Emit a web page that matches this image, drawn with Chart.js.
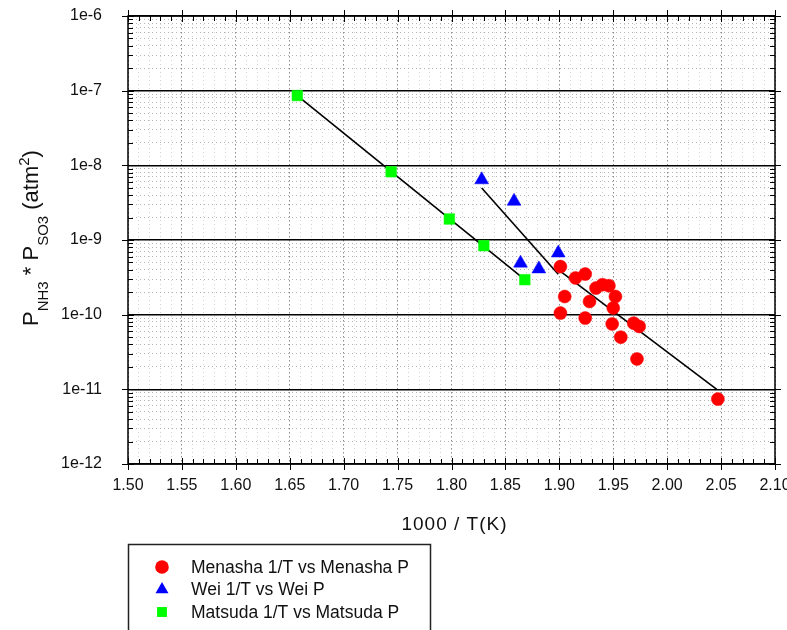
<!DOCTYPE html>
<html>
<head>
<meta charset="utf-8">
<script src="https://cdn.jsdelivr.net/npm/chart.js@4.4.1/dist/chart.umd.min.js"></script>
<style>
  html, body { margin: 0; padding: 0; background: #fff; }
  #wrap { width: 787px; height: 630px; }
</style>
</head>
<body>
<div id="wrap"><canvas id="chart" width="787" height="630"></canvas></div>
<script>
// values
const menashaX = [1.901, 1.915, 1.924, 1.905, 1.901, 1.928, 1.924, 1.934, 1.940, 1.946, 1.952, 1.950, 1.949, 1.969, 1.974, 1.957, 1.972, 2.047];
const menashaP = [4.4e-10, 3.1e-10, 3.5e-10, 1.75e-10, 1.05e-10, 1.5e-10, 9.0e-11, 2.27e-10, 2.52e-10, 2.44e-10, 1.75e-10, 1.23e-10, 7.5e-11, 7.7e-11, 6.95e-11, 5.0e-11, 2.55e-11, 7.4e-12];

const weiX = [1.828, 1.858, 1.899, 1.864, 1.881];
const weiP = [6.4e-9, 3.3e-9, 6.7e-10, 4.9e-10, 4.1e-10];

const matsudaX = [1.657, 1.744, 1.798, 1.830, 1.868];
const matsudaP = [8.6e-8, 8.2e-9, 1.91e-9, 8.4e-10, 2.94e-10];

// regression lines as drawn in the figure (end points)
const menashaFitX = [1.902, 2.046];
const menashaFitP = [3.72e-10, 1.0e-11];
const weiFitX = [1.828, 1.899];
const weiFitP = [4.98e-9, 3.47e-10];
const matsudaFitX = [1.657, 1.868];
const matsudaFitP = [8.6e-8, 2.95e-10];

const xTickLabels = ['1.50', '1.55', '1.60', '1.65', '1.70', '1.75', '1.80', '1.85', '1.90', '1.95', '2.00', '2.05', '2.10'];
const yTickLabels = ['1e-12', '1e-11', '1e-10', '1e-9', '1e-8', '1e-7', '1e-6'];

const xTitle = '1000 / T(K)';
const legendLabels = ['Menasha 1/T vs Menasha P', 'Wei 1/T vs Wei P', 'Matsuda 1/T vs Matsuda P'];

const FONT = '"Liberation Sans", Arial, Helvetica, sans-serif';

const pts = (xs, ys) => xs.map((x, i) => ({ x: x, y: ys[i] }));

// tick values: minor every 0.01 on x, 1..9 per decade on y
const xTicks = [];
for (let i = 0; i <= (xTickLabels.length - 1) * 5; i++) xTicks.push(Math.round((1.5 + i * 0.01) * 100) / 100);
const yTicks = [];
for (let e = -12; e < -6; e++) {
  for (let m = 1; m <= 9; m++) yTicks.push(m * Math.pow(10, e));
}
yTicks.push(1e-6);

const isMajorY = v => Math.abs(Math.log10(v) - Math.round(Math.log10(v))) < 1e-6;
const isMajorX = v => Math.abs(v * 20 - Math.round(v * 20)) < 1e-6;

// frame, inward minor ticks, crossing major ticks
const frameTicks = {
  id: 'frameTicks',
  afterDraw(chart) {
    const { ctx, chartArea: a, scales: { x, y } } = chart;
    ctx.save();
    ctx.strokeStyle = '#000';
    ctx.lineWidth = 1;
    ctx.beginPath();
    xTicks.forEach(v => {
      const px = Math.round(x.getPixelForValue(v)) + 0.5;
      const out = isMajorX(v) ? 6 : 0;
      const inn = isMajorX(v) ? 6 : 5;
      ctx.moveTo(px, a.bottom + out); ctx.lineTo(px, a.bottom - inn);
      ctx.moveTo(px, a.top - out); ctx.lineTo(px, a.top + inn);
    });
    yTicks.forEach(v => {
      const py = Math.round(y.getPixelForValue(v)) + 0.5;
      const out = isMajorY(v) ? 6 : 0;
      const inn = isMajorY(v) ? 6 : 5;
      ctx.moveTo(a.left - out, py); ctx.lineTo(a.left + inn, py);
      ctx.moveTo(a.right + out, py); ctx.lineTo(a.right - inn, py);
    });
    ctx.stroke();
    ctx.lineWidth = 1.5;
    ctx.strokeRect(a.left, a.top, a.right - a.left, a.bottom - a.top);
    ctx.restore();
  }
};

// axis titles (y title needs sub/superscripts)
const axisTitles = {
  id: 'axisTitles',
  afterDraw(chart) {
    const { ctx, chartArea: a } = chart;
    ctx.save();
    ctx.fillStyle = '#111';
    ctx.font = '19px ' + FONT;
    ctx.textAlign = 'center';
    ctx.textBaseline = 'middle';
    if ('letterSpacing' in ctx) ctx.letterSpacing = '1px';
    ctx.fillText(xTitle, (a.left + a.right) / 2 + 3, 525);
    if ('letterSpacing' in ctx) ctx.letterSpacing = '0px';

    ctx.translate(38, 326);
    ctx.rotate(-Math.PI / 2);
    ctx.textAlign = 'left';
    ctx.textBaseline = 'alphabetic';
    const parts = [
      ['P', 22, 0], ['NH3', 15, 10], [' * ', 22, 0], ['P', 22, 0],
      ['SO3', 15, 10], [' (atm', 22, 0], ['2', 15, -9.5], [')', 22, 0]
    ];
    let cx = 0;
    parts.forEach(([t, size, dy]) => {
      ctx.font = size + 'px ' + FONT;
      ctx.fillText(t, cx, dy);
      cx += ctx.measureText(t).width;
    });
    ctx.restore();
  }
};

// boxed legend under the plot
const boxLegend = {
  id: 'boxLegend',
  afterDraw(chart) {
    const { ctx } = chart;
    ctx.save();
    ctx.strokeStyle = '#222';
    ctx.lineWidth = 1.5;
    ctx.strokeRect(128.5, 544.5, 302, 120);
    ctx.font = '17.5px ' + FONT;
    ctx.textBaseline = 'middle';
    ctx.fillStyle = '#111';
    let row = 0;
    chart.data.datasets.forEach(ds => {
      if (!ds.inLegend) return;
      const cy = 567 + row * 22.5;
      ctx.fillStyle = ds.backgroundColor;
      ctx.strokeStyle = ds.backgroundColor;
      Chart.helpers.drawPoint(ctx, { pointStyle: ds.pointStyle, radius: ds.legendRadius, rotation: 0, borderWidth: 0 }, 162, cy);
      ctx.fillStyle = '#111';
      ctx.fillText(ds.label, 191, cy + 1);
      row++;
    });
    ctx.restore();
  }
};

const fitLine = (xs, ys) => ({
  type: 'line',
  data: pts(xs, ys),
  borderColor: '#000',
  borderWidth: 1.6,
  pointRadius: 0,
  fill: false,
  order: 2
});

new Chart(document.getElementById('chart'), {
  type: 'scatter',
  data: {
    datasets: [
      {
        label: legendLabels[0], inLegend: true, legendRadius: 6.8,
        data: pts(menashaX, menashaP),
        pointStyle: 'circle', pointRadius: 6.5,
        backgroundColor: '#ff0000', borderColor: '#ff0000', borderWidth: 0.5, order: 1
      },
      {
        label: legendLabels[1], inLegend: true, legendRadius: 7.5,
        data: pts(weiX, weiP),
        pointStyle: 'triangle', pointRadius: 8,
        backgroundColor: '#0000ff', borderColor: '#0000ff', borderWidth: 0.5, order: 1
      },
      {
        label: legendLabels[2], inLegend: true, legendRadius: 7,
        data: pts(matsudaX, matsudaP),
        pointStyle: 'rect', pointRadius: 7.5,
        backgroundColor: '#00ff00', borderColor: '#00ff00', borderWidth: 0.5, order: 1
      },
      fitLine(matsudaFitX, matsudaFitP),
      fitLine(weiFitX, weiFitP),
      fitLine(menashaFitX, menashaFitP)
    ]
  },
  options: {
    responsive: false,
    animation: false,
    layout: { padding: { top: 16, right: 12, left: 0, bottom: 0 } },
    plugins: {
      legend: { display: false },
      tooltip: { enabled: false }
    },
    scales: {
      x: {
        type: 'linear',
        min: 1.5,
        max: 2.1,
        afterBuildTicks: s => { s.ticks = xTicks.map(v => ({ value: v })); },
        afterFit: s => { s.height = 166; s.paddingLeft = 0; s.paddingRight = 0; },
        ticks: {
          autoSkip: false,
          maxRotation: 0,
          padding: 12,
          color: '#111',
          font: { family: FONT, size: 16 },
          callback: (v, i) => (i % 5 === 0 ? xTickLabels[i / 5] : '')
        },
        grid: {
          drawTicks: false,
          color: c => (c.tick && isMajorX(c.tick.value) ? '#8c8c8c' : '#d2d2d2'),
          lineWidth: 1
        },
        border: { display: false, dash: c => (c.tick ? (isMajorX(c.tick.value) ? [1.5, 2.5] : [1, 3]) : []) }
      },
      y: {
        type: 'logarithmic',
        min: 1e-12,
        max: 1e-6,
        afterBuildTicks: s => { s.ticks = yTicks.map(v => ({ value: v })); },
        afterFit: s => { s.width = 128; s.paddingTop = 0; s.paddingBottom = 0; },
        ticks: {
          autoSkip: false,
          padding: 26,
          color: '#111',
          font: { family: FONT, size: 16 },
          callback: v => (isMajorY(v) ? yTickLabels[Math.round(Math.log10(v)) + 12] : '')
        },
        grid: {
          drawTicks: false,
          color: c => (c.tick && isMajorY(c.tick.value) ? '#000' : '#b4b4b4'),
          lineWidth: c => (c.tick && isMajorY(c.tick.value) ? 1.6 : 1)
        },
        border: { display: false, dash: c => (c.tick && !isMajorY(c.tick.value) ? [1, 3] : []) }
      }
    }
  },
  plugins: [frameTicks, axisTitles, boxLegend]
});
</script>
</body>
</html>
